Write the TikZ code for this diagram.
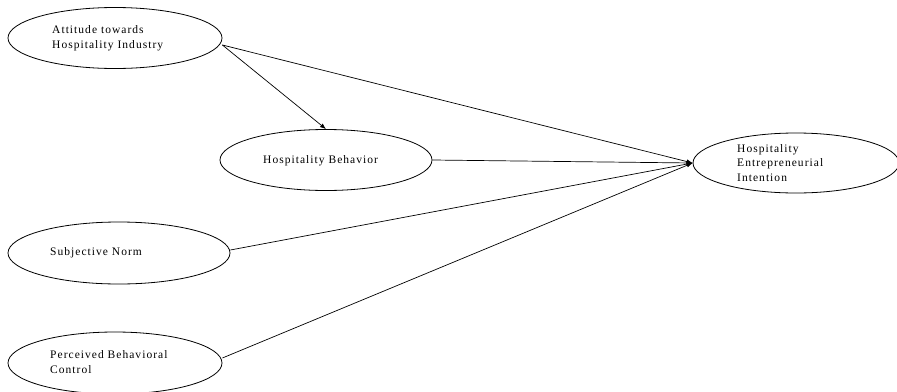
\documentclass[tikz,border=0pt]{standalone}
\usepackage{fontspec}
\setmainfont{Liberation Serif}
\newfontfamily\lblfont[LetterSpace=9]{Liberation Serif}
\usetikzlibrary{shapes.geometric,arrows.meta}
\begin{document}
\begin{tikzpicture}[x=1pt,y=-1pt,
  var/.style={draw,ellipse,inner sep=0pt,line width=0.8pt},
  lbl/.style={anchor=west,inner sep=0pt,align=left,font=\lblfont\fontsize{11.5}{14.5}\selectfont},
  link/.style={line width=0.7pt,-{Latex[length=6pt,width=4.5pt]}}]
\useasboundingbox (0,0) rectangle (897,391);
\node[var,minimum width=214pt,minimum height=61pt] (att) at (115,38) {};
\node[lbl] (attt) at (52,38) {Attitude towards\\Hospitality Industry};
\node[var,minimum width=212pt,minimum height=61pt] (hb) at (326,160) {};
\node[lbl] (hbt) at (263,161) {Hospitality Behavior};
\node[var,minimum width=206pt,minimum height=60pt] (hei) at (796,163) {};
\node[lbl] (heit) at (737,163) {Hospitality\\Entrepreneurial\\Intention};
\node[var,minimum width=222pt,minimum height=62pt] (sn) at (119,253) {};
\node[lbl] (snt) at (50,253) {Subjective Norm};
\node[var,minimum width=214pt,minimum height=62pt] (pbc) at (115,363) {};
\node[lbl] (pbct) at (50,362) {Perceived Behavioral\\Control};
\draw[link] (att.east) ++(0,7) coordinate (a1) -- (hei.west);
\draw[link] (a1) -- (hb.north);
\draw[link] (hb.east) -- (hei.west);
\draw[link] (sn.east) ++(0,-3) -- (hei.west);
\draw[link] (pbc.east) ++(0,-5) -- (hei.west);
\end{tikzpicture}
\end{document}
